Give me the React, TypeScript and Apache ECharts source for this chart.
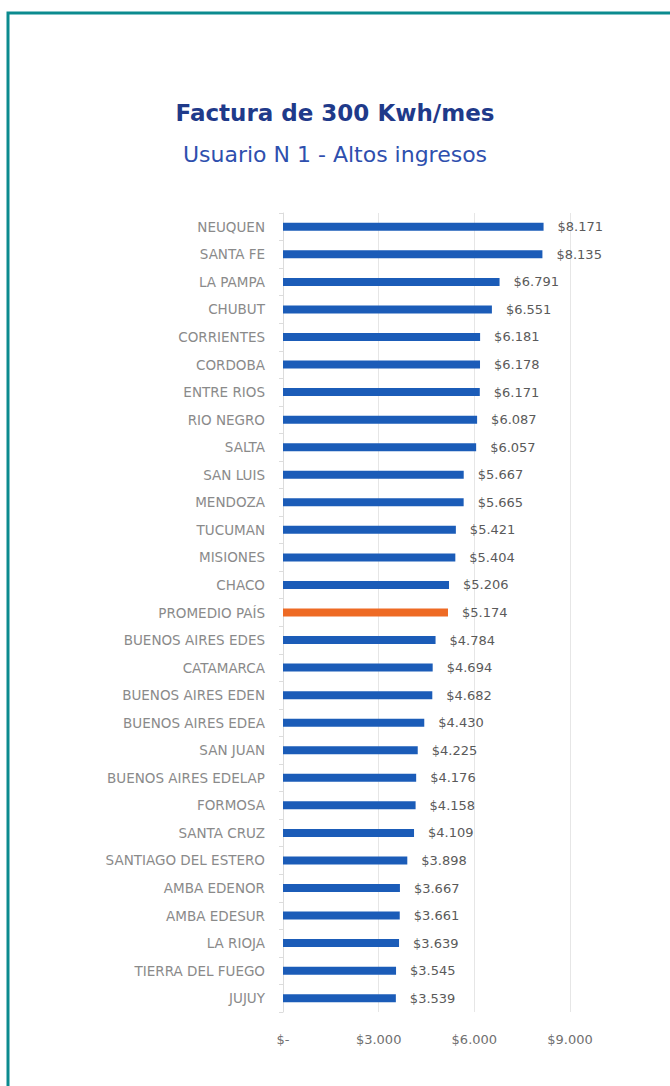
import React, { useEffect, useRef } from "react";
import * as echarts from "echarts";

const categories = [
  "NEUQUEN", "SANTA FE", "LA PAMPA", "CHUBUT", "CORRIENTES", "CORDOBA", "ENTRE RIOS",
  "RIO NEGRO", "SALTA", "SAN LUIS", "MENDOZA", "TUCUMAN", "MISIONES", "CHACO",
  "PROMEDIO PAÍS", "BUENOS AIRES EDES", "CATAMARCA", "BUENOS AIRES EDEN", "BUENOS AIRES EDEA",
  "SAN JUAN", "BUENOS AIRES EDELAP", "FORMOSA", "SANTA CRUZ", "SANTIAGO DEL ESTERO",
  "AMBA EDENOR", "AMBA EDESUR", "LA RIOJA", "TIERRA DEL FUEGO", "JUJUY",
];
const values = [
  8171, 8135, 6791, 6551, 6181, 6178, 6171, 6087, 6057, 5667, 5665, 5421, 5404, 5206,
  5174, 4784, 4694, 4682, 4430, 4225, 4176, 4158, 4109, 3898, 3667, 3661, 3639, 3545, 3539,
];
const highlight = "PROMEDIO PAÍS";
const axisTicks = [0, 3000, 6000, 9000];

const title = "Factura de 300 Kwh/mes";
const subtitle = "Usuario N 1 - Altos ingresos";

const fmt = (v: number) =>
  v === 0 ? "$-" : "$" + Math.round(v).toString().replace(/\B(?=(\d{3})+(?!\d))/g, ".");

export default function App() {
  const ref = useRef<HTMLDivElement>(null);
  useEffect(() => {
    if (!ref.current) return;
    const chart = echarts.init(ref.current, undefined, { renderer: "svg" });
    chart.setOption({
      animation: false,
      backgroundColor: "#ffffff",
      title: [
        {
          text: title,
          left: "center",
          top: 96,
          textStyle: { fontFamily: "DejaVu Sans", fontWeight: "bold", fontSize: 23, color: "#1f3a8a" },
        },
        {
          text: subtitle,
          left: "center",
          top: 138,
          textStyle: { fontFamily: "DejaVu Sans", fontWeight: "normal", fontSize: 22, color: "#2e4fae" },
        },
      ],
      graphic: [
        {
          type: "rect",
          shape: { x: 8, y: 13, width: 720, height: 1120 },
          style: { fill: "none", stroke: "#0b8b8f", lineWidth: 3 },
          silent: true,
        },
      ],
      grid: { left: 283, right: 100, top: 213, bottom: 74, containLabel: false },
      xAxis: {
        type: "value",
        min: 0,
        max: 9000,
        interval: 3000,
        axisLine: { show: false },
        axisTick: { show: false },
        splitLine: { show: true, lineStyle: { color: "#e6e6e6", width: 1 } },
        axisLabel: {
          margin: 21,
          color: "#707070",
          fontFamily: "DejaVu Sans",
          fontSize: 13,
          formatter: (v: number) => (axisTicks.includes(v) ? fmt(v) : ""),
        },
      },
      yAxis: {
        type: "category",
        inverse: true,
        data: categories,
        axisLine: { show: true, lineStyle: { color: "#dcdcdc" } },
        axisTick: { show: true, length: 4, lineStyle: { color: "#dcdcdc" } },
        axisLabel: { margin: 18, color: "#8a8a8a", fontFamily: "DejaVu Sans", fontSize: 13.5 },
      },
      series: [
        {
          type: "bar",
          barWidth: 8,
          data: values.map((v, i) => ({
            value: v,
            itemStyle: { color: categories[i] === highlight ? "#ee6a24" : "#1b5cb8" },
          })),
          label: {
            show: true,
            position: "right",
            distance: 14,
            color: "#5a5a5a",
            fontFamily: "DejaVu Sans",
            fontSize: 13,
            formatter: (p: any) => fmt(p.value),
          },
        },
      ],
    });
    return () => chart.dispose();
  }, []);
  return (
    <div
      ref={ref}
      style={{ position: "fixed", left: 0, top: 0, width: 670, height: 1086, background: "#fff" }}
    />
  );
}
